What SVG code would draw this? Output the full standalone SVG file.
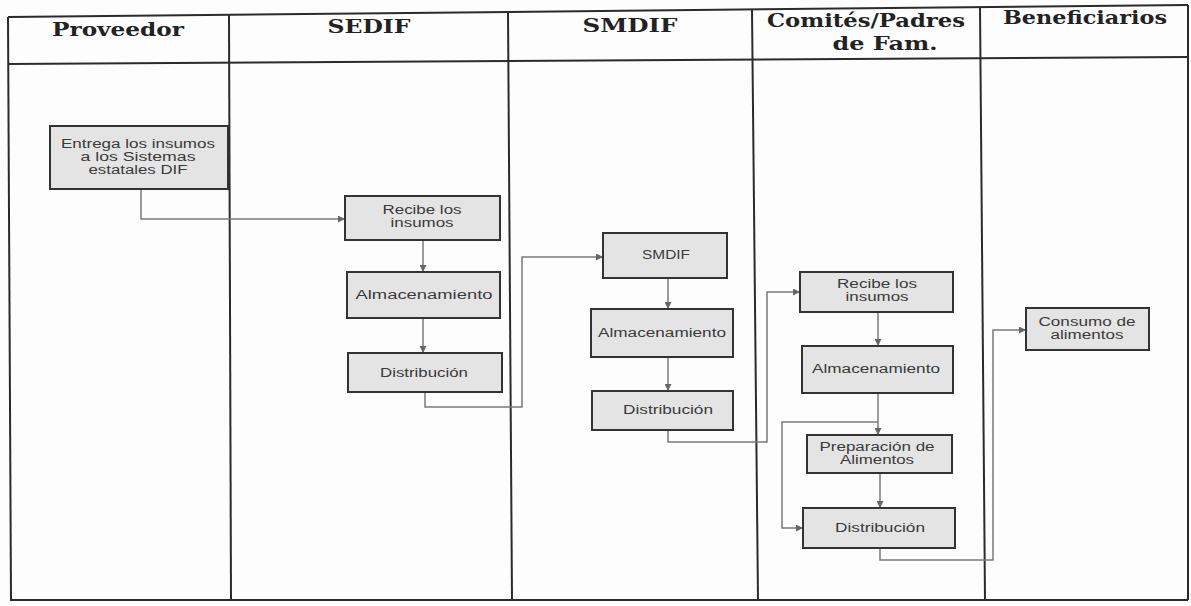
<svg xmlns="http://www.w3.org/2000/svg" width="1191" height="606" viewBox="0 0 1191 606">
<style>
.tbl{stroke:#2b2b2b;stroke-width:2;fill:none}
.hd{font-family:"DejaVu Serif","Liberation Serif",serif;font-weight:bold;font-size:18px;fill:#222;text-anchor:middle}
.box{fill:#e4e4e4;stroke:#333;stroke-width:2}
.tx{font-family:"Liberation Sans",Arial,sans-serif;font-size:12px;fill:#3a3a3a;text-anchor:middle}
.con{stroke:#7a7a7a;stroke-width:1.5;fill:none}
</style>
<defs>
<marker id="arr" viewBox="0 0 10 10" refX="10" refY="5" markerWidth="8" markerHeight="7" orient="auto" markerUnits="userSpaceOnUse">
<path d="M0,0 L10,5 L0,10 z" fill="#666"/>
</marker>
</defs>
<rect x="0" y="0" width="1191" height="606" fill="#fdfdfd"/>
<g id="table">
<line class="tbl" x1="8" y1="17" x2="1188" y2="5"/>
<line class="tbl" x1="8" y1="64" x2="1188" y2="57"/>
<line class="tbl" x1="10" y1="600" x2="1188" y2="600"/>
<line class="tbl" x1="8" y1="17" x2="11" y2="600"/>
<line class="tbl" x1="229" y1="15" x2="231" y2="600"/>
<line class="tbl" x1="508" y1="12" x2="512" y2="600"/>
<line class="tbl" x1="752" y1="10" x2="758" y2="600"/>
<line class="tbl" x1="980" y1="7" x2="985" y2="600"/>
<line class="tbl" x1="1188" y1="5" x2="1188" y2="600"/>
<text class="hd" x="118" y="36" textLength="132" lengthAdjust="spacingAndGlyphs">Proveedor</text>
<text class="hd" x="369" y="33" textLength="83" lengthAdjust="spacingAndGlyphs">SEDIF</text>
<text class="hd" x="630" y="32" textLength="95" lengthAdjust="spacingAndGlyphs">SMDIF</text>
<text class="hd" x="866" y="27" textLength="198" lengthAdjust="spacingAndGlyphs">Comités/Padres</text>
<text class="hd" x="885" y="50" textLength="105" lengthAdjust="spacingAndGlyphs">de Fam.</text>
<text class="hd" x="1085" y="24" textLength="164" lengthAdjust="spacingAndGlyphs">Beneficiarios</text>
</g>
<g id="connectors">
<polyline class="con" points="141,189 141,219 345,219" marker-end="url(#arr)"/>
<polyline class="con" points="423,240 423,272" marker-end="url(#arr)"/>
<polyline class="con" points="423,318 423,353" marker-end="url(#arr)"/>
<polyline class="con" points="425,392 425,407 522,407 522,257 603,257" marker-end="url(#arr)"/>
<polyline class="con" points="668,278 668,309" marker-end="url(#arr)"/>
<polyline class="con" points="668,357 668,391" marker-end="url(#arr)"/>
<polyline class="con" points="668,430 668,442 767,442 767,292 800,292" marker-end="url(#arr)"/>
<polyline class="con" points="878,312 878,346" marker-end="url(#arr)"/>
<polyline class="con" points="878,393 878,435" marker-end="url(#arr)"/>
<polyline class="con" points="878,422 782,422 782,528 803,528" marker-end="url(#arr)"/>
<polyline class="con" points="880,473 880,508" marker-end="url(#arr)"/>
<polyline class="con" points="880,548 880,560 993,560 993,330 1026,330" marker-end="url(#arr)"/>
</g>
<g id="n-entrega">
<rect class="box" x="50" y="126" width="178" height="63"/>
<text class="tx" x="138" y="148" textLength="154" lengthAdjust="spacingAndGlyphs">Entrega los insumos</text>
<text class="tx" x="138" y="161" textLength="115" lengthAdjust="spacingAndGlyphs">a los Sistemas</text>
<text class="tx" x="138" y="174" textLength="99" lengthAdjust="spacingAndGlyphs">estatales DIF</text>
</g>
<g id="n-sedif-recibe">
<rect class="box" x="345" y="196" width="155" height="44"/>
<text class="tx" x="422" y="214" textLength="79" lengthAdjust="spacingAndGlyphs">Recibe los</text>
<text class="tx" x="422" y="227" textLength="63" lengthAdjust="spacingAndGlyphs">insumos</text>
</g>
<g id="n-sedif-alm">
<rect class="box" x="347" y="272" width="153" height="46"/>
<text class="tx" x="424" y="299" textLength="137" lengthAdjust="spacingAndGlyphs">Almacenamiento</text>
</g>
<g id="n-sedif-dist">
<rect class="box" x="348" y="353" width="154" height="39"/>
<text class="tx" x="424" y="377" textLength="88" lengthAdjust="spacingAndGlyphs">Distribución</text>
</g>
<g id="n-smdif">
<rect class="box" x="603" y="233" width="124" height="45"/>
<text class="tx" x="666" y="259" textLength="48" lengthAdjust="spacingAndGlyphs">SMDIF</text>
</g>
<g id="n-smdif-alm">
<rect class="box" x="591" y="309" width="142" height="48"/>
<text class="tx" x="662" y="337" textLength="128" lengthAdjust="spacingAndGlyphs">Almacenamiento</text>
</g>
<g id="n-smdif-dist">
<rect class="box" x="592" y="391" width="141" height="39"/>
<text class="tx" x="668" y="414" textLength="90" lengthAdjust="spacingAndGlyphs">Distribución</text>
</g>
<g id="n-com-recibe">
<rect class="box" x="800" y="272" width="153" height="40"/>
<text class="tx" x="877" y="288" textLength="80" lengthAdjust="spacingAndGlyphs">Recibe los</text>
<text class="tx" x="877" y="301" textLength="63" lengthAdjust="spacingAndGlyphs">insumos</text>
</g>
<g id="n-com-alm">
<rect class="box" x="802" y="346" width="151" height="47"/>
<text class="tx" x="876" y="373" textLength="128" lengthAdjust="spacingAndGlyphs">Almacenamiento</text>
</g>
<g id="n-com-prep">
<rect class="box" x="807" y="435" width="145" height="38"/>
<text class="tx" x="877" y="451" textLength="115" lengthAdjust="spacingAndGlyphs">Preparación de</text>
<text class="tx" x="877" y="464" textLength="74" lengthAdjust="spacingAndGlyphs">Alimentos</text>
</g>
<g id="n-com-dist">
<rect class="box" x="803" y="508" width="152" height="40"/>
<text class="tx" x="880" y="532" textLength="90" lengthAdjust="spacingAndGlyphs">Distribución</text>
</g>
<g id="n-consumo">
<rect class="box" x="1026" y="308" width="123" height="42"/>
<text class="tx" x="1087" y="326" textLength="97" lengthAdjust="spacingAndGlyphs">Consumo de</text>
<text class="tx" x="1087" y="339" textLength="73" lengthAdjust="spacingAndGlyphs">alimentos</text>
</g>
</svg>
